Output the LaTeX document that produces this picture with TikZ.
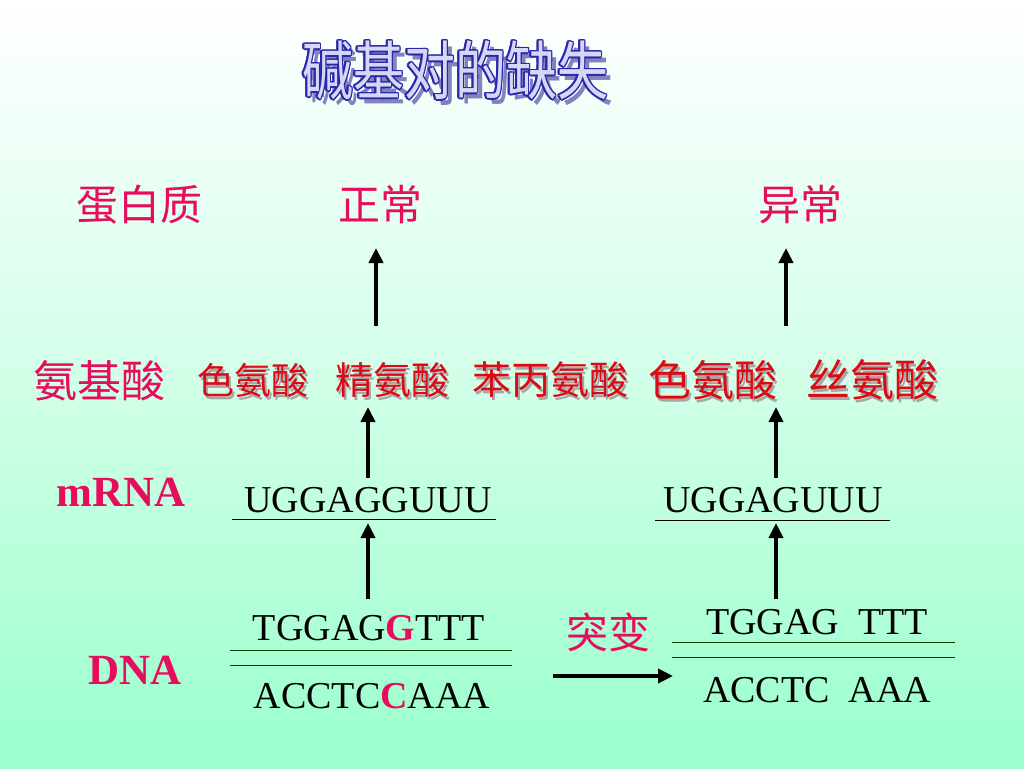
\documentclass[tikz,border=0pt]{standalone}
\usepackage{fontspec}
\setmainfont{Liberation Serif}
\newfontfamily\cjk{Noto Sans CJK SC}
\usepackage[copies]{contour}
\usetikzlibrary{arrows.meta}
\definecolor{pinkred}{RGB}{232,12,92}
\definecolor{aared}{RGB}{220,10,20}
\definecolor{bggreen}{RGB}{153,255,204}
\definecolor{titleblue}{RGB}{40,40,170}
\definecolor{titlefill}{RGB}{215,215,245}
\definecolor{titleshadow}{RGB}{130,130,190}
\tikzset{
  upar/.style={line width=4pt,-{Triangle[width=14pt,length=15pt]}},
  pinklbl/.style={text=pinkred,font=\cjk\fontsize{42}{42}\selectfont,inner sep=0pt},
  latinpink/.style={text=pinkred,font=\bfseries\fontsize{42}{42}\selectfont,inner sep=0pt},
  aa/.style={text=aared,font=\cjk\fontsize{37}{37}\selectfont,inner sep=0pt},
  aashadow/.style={text=black!35,font=\cjk\fontsize{37}{37}\selectfont,inner sep=0pt},
  seq/.style={text=black,font=\fontsize{38}{38}\selectfont,inner sep=0pt},
  strand/.style={line width=1pt,draw=black!75!green}
}
\begin{document}
\begin{tikzpicture}[x=1pt,y=-1pt]
\shade[top color=white,bottom color=bggreen,middle color=bggreen!45!white] (0,0) rectangle (1024,768);
\useasboundingbox (0,0) rectangle (1024,768);
% title
\node[text=titleshadow,font=\cjk\fontsize{51}{51}\selectfont,yscale=1.25,inner sep=0pt] (titleshadow) at (460,76) {碱基对的缺失};
\contourlength{1.2pt}
\node[font=\cjk\fontsize{51}{51}\selectfont,yscale=1.25,inner sep=0pt] (title) at (455,71) {\contour{titleblue}{\textcolor{titlefill}{碱基对的缺失}}};
% protein row
\node[pinklbl] (protein) at (139,205) {蛋白质};
\node[pinklbl] (normal) at (380,205) {正常};
\node[pinklbl] (abnormal) at (800,205) {异常};
\coordinate (pa1) at (376,326);
\coordinate (pa2) at (786,326);
\draw[upar] (pa1) -- (pa1 |- 0,248);
\draw[upar] (pa2) -- (pa2 |- 0,248);
% amino acid row
\node[pinklbl,font=\cjk\fontsize{44}{44}\selectfont] (aminolbl) at (99,381) {氨基酸};
\foreach \n/\x/\t/\s in {a1/253/色氨酸/37, a2/392/精氨酸/38, a3/550/苯丙氨酸/39, a4/713/色氨酸/43, a5/872/丝氨酸/44}{
  \node[aashadow,font=\cjk\fontsize{\s}{\s}\selectfont] (\n s) at (\x+2,383) {\t};
  \node[aa,font=\cjk\fontsize{\s}{\s}\selectfont] (\n) at (\x,380) {\t};
}
% mRNA row
\node[latinpink,font=\bfseries\fontsize{43}{43}\selectfont] (mrnalbl) at (121,492) {mRNA};
\node[seq] (m1) at (368,500) {UGGAGGUUU};
\node[seq] (m2) at (773,500) {UGGAGUUU};
\coordinate (u1a) at (232,519); \coordinate (u1b) at (496,519);
\coordinate (u2a) at (655,520); \coordinate (u2b) at (890,520);
\draw[line width=1pt] (u1a) -- (u1b);
\draw[line width=1pt] (u2a) -- (u2b);
\coordinate (b1) at (368,478);
\coordinate (b2) at (776,478);
\draw[upar] (b1) -- (b1 |- 0,407);
\draw[upar] (b2) -- (b2 |- 0,407);
\coordinate (c1) at (368,599);
\coordinate (c2) at (776,599);
\draw[upar] (c1) -- (c1 |- 0,523);
\draw[upar] (c2) -- (c2 |- 0,523);
% DNA
\node[latinpink,font=\bfseries\fontsize{43}{43}\selectfont] (dnalbl) at (135,670) {DNA};
\node[seq] (d1top) at (369,628) {TGGAG\textcolor{pinkred}{\textbf{G}}TTT};
\node[seq] (d1bot) at (372,696) {ACCTC\textcolor{pinkred}{\textbf{C}}AAA};
\coordinate (s1a) at (230,650); \coordinate (s1b) at (512,650);
\coordinate (s1c) at (230,665); \coordinate (s1d) at (512,665);
\draw[strand] (s1a) -- (s1b);
\draw[strand] (s1c) -- (s1d);
\node[pinklbl] (mut) at (608,632) {突变};
\coordinate (ma) at (553,676);
\coordinate (mb) at (673,676);
\draw[line width=4pt,-{Triangle[width=14pt,length=15pt]}] (ma) -- (mb);
\node[seq] (d2top) at (817,622) {TGGAG\ \ TTT};
\node[seq] (d2bot) at (817,690) {ACCTC\ \ AAA};
\coordinate (s2a) at (672,642); \coordinate (s2b) at (955,642);
\coordinate (s2c) at (672,657); \coordinate (s2d) at (955,657);
\draw[strand] (s2a) -- (s2b);
\draw[strand] (s2c) -- (s2d);
\end{tikzpicture}
\end{document}
